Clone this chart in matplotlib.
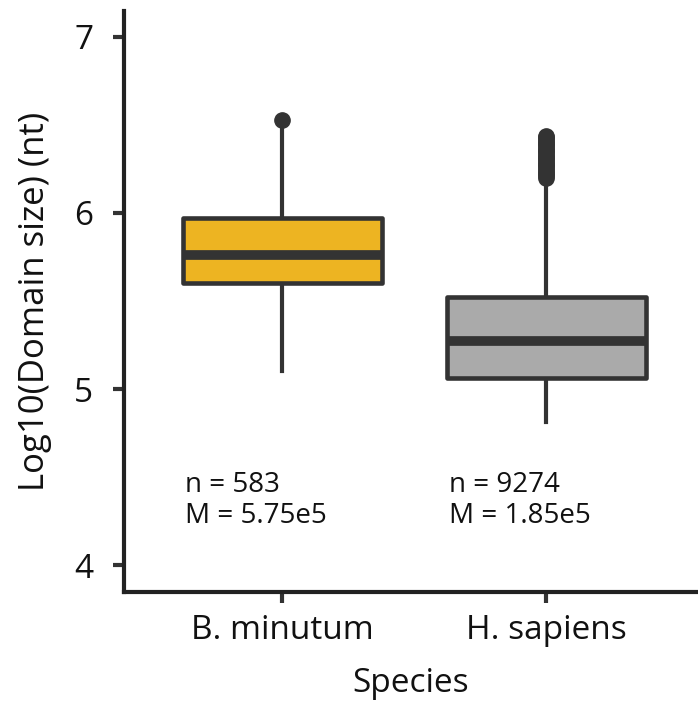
import matplotlib
matplotlib.use("Agg")
import matplotlib.pyplot as plt

plt.rcParams['font.family'] = ['Open Sans', 'DejaVu Sans']

species = ["B. minutum", "H. sapiens"]
n_counts = [583, 9274]
median_sizes = ["5.75e5", "1.85e5"]

q1 = [5.60, 5.06]
medians = [5.76, 5.27]
q3 = [5.97, 5.52]
whisker_low = [5.10, 4.81]
whisker_high = [6.49, 6.17]
outliers = [
    [6.53],
    [6.20, 6.21, 6.22, 6.23, 6.24, 6.25, 6.26, 6.27, 6.28, 6.29, 6.30,
     6.31, 6.32, 6.33, 6.34, 6.35, 6.36, 6.37, 6.38, 6.39, 6.40, 6.41,
     6.42, 6.43, 6.44],
]
fill_colors = ["#EDB422", "#AAAAAA"]
edge = "#333333"
text_color = "#111111"

W, H = 698, 703
fig = plt.figure(figsize=(W / 100, H / 100), dpi=100)
ax = fig.add_axes([124 / W, 1 - 592 / H, (698 - 124) / W, (592 - 11) / H])

stats = []
for i in range(len(species)):
    stats.append(dict(med=medians[i], q1=q1[i], q3=q3[i],
                      whislo=whisker_low[i], whishi=whisker_high[i],
                      fliers=outliers[i], label=species[i]))

positions = [1, 2]
bp = ax.bxp(stats, positions=positions, widths=0.755, patch_artist=True,
            showcaps=False,
            boxprops=dict(edgecolor=edge, linewidth=3.3),
            medianprops=dict(color=edge, linewidth=7, solid_capstyle='butt'),
            whiskerprops=dict(color=edge, linewidth=3.0),
            flierprops=dict(marker='o', markerfacecolor=edge,
                            markeredgecolor=edge, markersize=11))
for patch, c in zip(bp['boxes'], fill_colors):
    patch.set_facecolor(c)
    patch.set_joinstyle('round')
for w in bp['whiskers']:
    w.set_zorder(1)

for i, x in enumerate(positions):
    ax.text(x - 0.37, 4.415, f"n = {n_counts[i]}", fontsize=20,
            color=text_color, ha='left', va='baseline')
    ax.text(x - 0.37, 4.239, f"M = {median_sizes[i]}", fontsize=20,
            color=text_color, ha='left', va='baseline')

ax.set_xlim(0.4, 0.4 + (698 - 124) / 264)
ax.set_ylim(4 - 27 / 176, 7 + 26 / 176)
ax.set_xticks(positions)
ax.set_xticklabels(species)
ax.set_yticks([4, 5, 6, 7])
ax.set_yticklabels(["4", "5", "6", "7"])

for s in ['top', 'right']:
    ax.spines[s].set_visible(False)
for s in ['left', 'bottom']:
    ax.spines[s].set_linewidth(3.0)
    ax.spines[s].set_color("#222222")
ax.tick_params(axis='both', length=8, width=3.0, color="#333333",
               labelsize=24, labelcolor=text_color)
ax.tick_params(axis='y', pad=14)
ax.tick_params(axis='x', pad=8)

ax.set_xlabel("Species", fontsize=24, color=text_color, labelpad=14)
ax.set_ylabel("Log10(Domain size) (nt)", fontsize=25, color=text_color,
              labelpad=16)

fig.savefig("out.png", dpi=100)
